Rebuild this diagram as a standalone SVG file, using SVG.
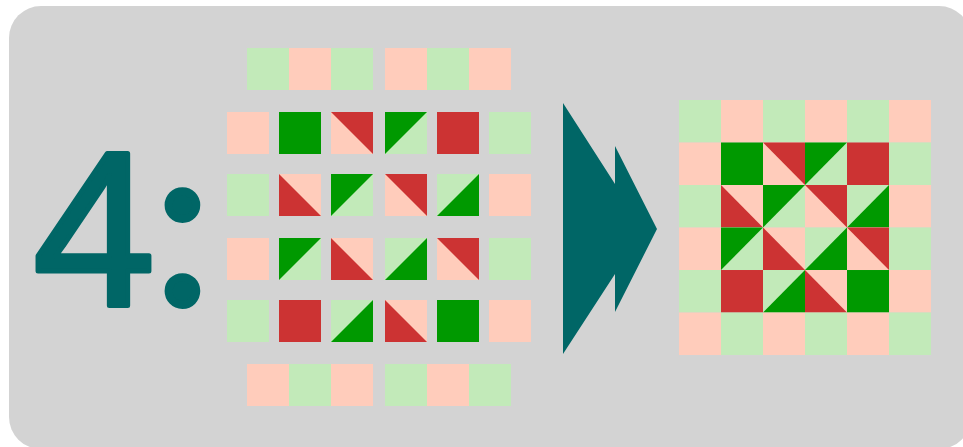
<svg xmlns="http://www.w3.org/2000/svg" xmlns:xlink="http://www.w3.org/1999/xlink" width="963" height="447" viewBox="0 0 963 447">
<style>
.bg{fill:#d3d3d3}
.dg{fill:#009900}
.rd{fill:#cc3333}
.pk{fill:#ffccbb}
.lg{fill:#c2eab9}
.teal{fill:#006666}
.num{font-family:"Liberation Sans",Arial,sans-serif;fill:#006666;stroke:#006666;stroke-linejoin:round;stroke-linecap:round}
.colon{font-family:"Liberation Serif","Times New Roman",serif}
</style>
<defs>
<rect id="P" class="pk" width="42" height="42"/>
<rect id="L" class="lg" width="42" height="42"/>
<rect id="G" class="dg" width="42" height="42"/>
<rect id="R" class="rd" width="42" height="42"/>
<g id="A"><rect class="pk" width="42" height="42"/><polygon class="rd" points="0,0 42,0 42,42"/></g>
<g id="B"><rect class="lg" width="42" height="42"/><polygon class="dg" points="0,0 42,0 0,42"/></g>
<g id="C"><rect class="pk" width="42" height="42"/><polygon class="rd" points="0,0 0,42 42,42"/></g>
<g id="D"><rect class="lg" width="42" height="42"/><polygon class="dg" points="42,0 42,42 0,42"/></g>
</defs>
<rect class="bg" x="9" y="6" width="962" height="443" rx="32"/>
<g id="label">
<text class="num" x="33" y="305" font-size="220" stroke-width="5">4<tspan class="colon" x="150" y="302" font-size="235" stroke-width="8">:</tspan></text>
</g>
<g id="left-grid">
<use href="#L" x="247" y="48"/><use href="#P" x="289" y="48"/><use href="#L" x="331" y="48"/>
<use href="#P" x="385" y="48"/><use href="#L" x="427" y="48"/><use href="#P" x="469" y="48"/>
<use href="#P" x="227" y="112"/><use href="#G" x="279" y="112"/><use href="#A" x="331" y="112"/><use href="#B" x="385" y="112"/><use href="#R" x="437" y="112"/><use href="#L" x="489" y="112"/>
<use href="#L" x="227" y="174"/><use href="#C" x="279" y="174"/><use href="#B" x="331" y="174"/><use href="#A" x="385" y="174"/><use href="#D" x="437" y="174"/><use href="#P" x="489" y="174"/>
<use href="#P" x="227" y="238"/><use href="#B" x="279" y="238"/><use href="#C" x="331" y="238"/><use href="#D" x="385" y="238"/><use href="#A" x="437" y="238"/><use href="#L" x="489" y="238"/>
<use href="#L" x="227" y="300"/><use href="#R" x="279" y="300"/><use href="#D" x="331" y="300"/><use href="#C" x="385" y="300"/><use href="#G" x="437" y="300"/><use href="#P" x="489" y="300"/>
<use href="#P" x="247" y="364"/><use href="#L" x="289" y="364"/><use href="#P" x="331" y="364"/>
<use href="#L" x="385" y="364"/><use href="#P" x="427" y="364"/><use href="#L" x="469" y="364"/>
</g>
<g id="arrow">
<polygon class="teal" points="563,103 615,184 615,146 657,229 615,312 615,274 563,354"/>
</g>
<g id="right-grid" transform="translate(679,100) scale(1,1.012)">
<use href="#L" x="0" y="0"/><use href="#P" x="42" y="0"/><use href="#L" x="84" y="0"/><use href="#P" x="126" y="0"/><use href="#L" x="168" y="0"/><use href="#P" x="210" y="0"/>
<use href="#P" x="0" y="42"/><use href="#G" x="42" y="42"/><use href="#A" x="84" y="42"/><use href="#B" x="126" y="42"/><use href="#R" x="168" y="42"/><use href="#L" x="210" y="42"/>
<use href="#L" x="0" y="84"/><use href="#C" x="42" y="84"/><use href="#B" x="84" y="84"/><use href="#A" x="126" y="84"/><use href="#D" x="168" y="84"/><use href="#P" x="210" y="84"/>
<use href="#P" x="0" y="126"/><use href="#B" x="42" y="126"/><use href="#C" x="84" y="126"/><use href="#D" x="126" y="126"/><use href="#A" x="168" y="126"/><use href="#L" x="210" y="126"/>
<use href="#L" x="0" y="168"/><use href="#R" x="42" y="168"/><use href="#D" x="84" y="168"/><use href="#C" x="126" y="168"/><use href="#G" x="168" y="168"/><use href="#P" x="210" y="168"/>
<use href="#P" x="0" y="210"/><use href="#L" x="42" y="210"/><use href="#P" x="84" y="210"/><use href="#L" x="126" y="210"/><use href="#P" x="168" y="210"/><use href="#L" x="210" y="210"/>
</g>
</svg>
